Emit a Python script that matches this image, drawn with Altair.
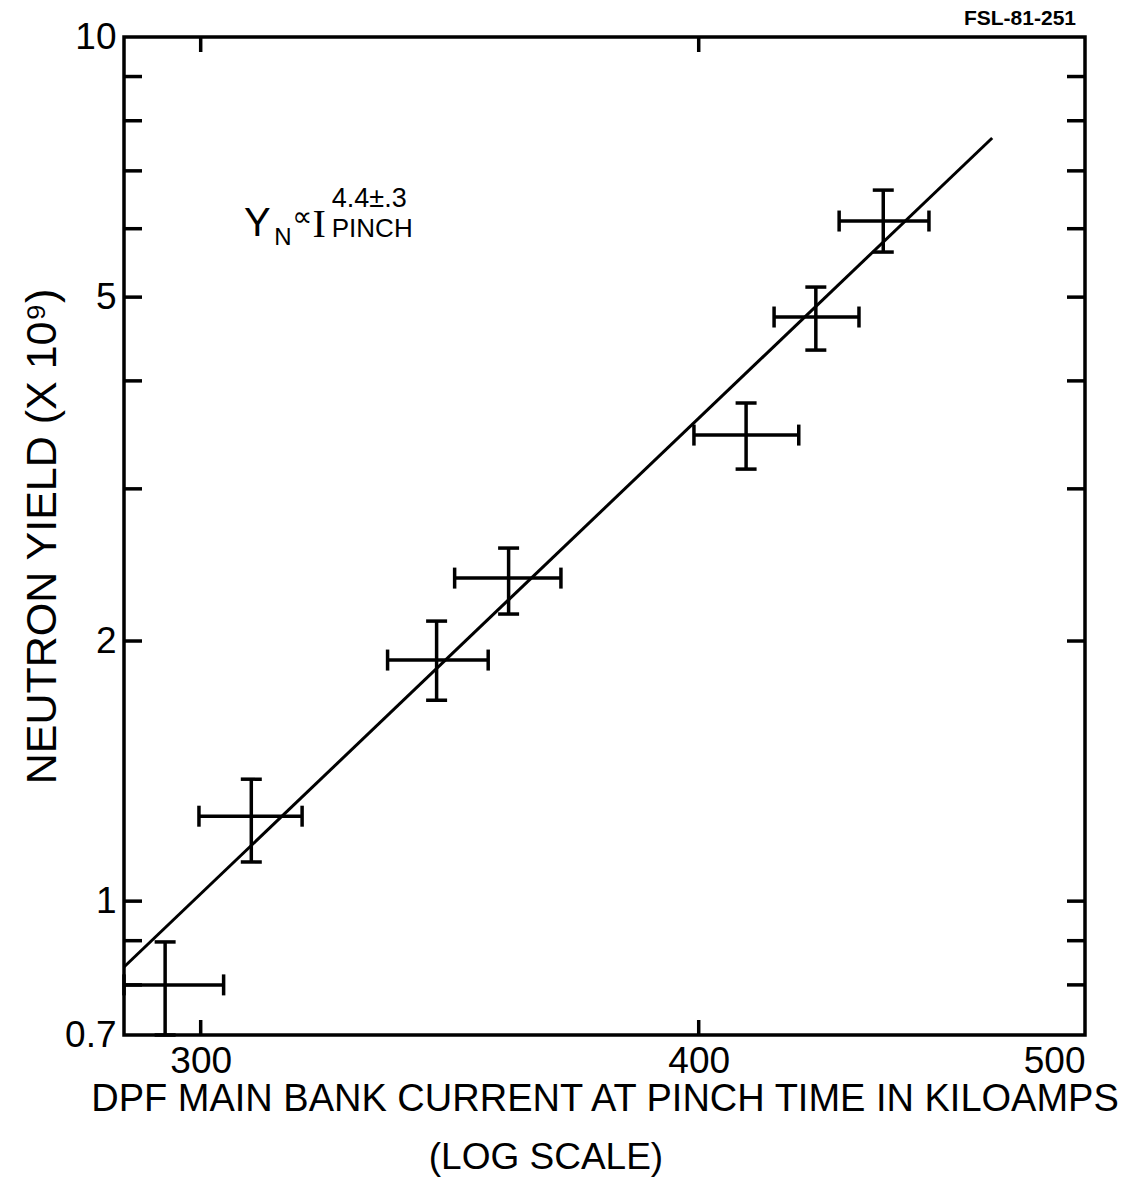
import altair as alt
import pandas as pd

# Measured pinch current (kA) with horizontal error range
current = [293.9, 308.9, 343.8, 358.4, 411.1, 428.0, 445.0]
current_lo = [287.0, 299.7, 334.2, 347.4, 398.9, 417.8, 433.8]
current_hi = [304.0, 318.1, 354.2, 369.4, 423.8, 438.8, 456.9]

# Neutron yield (x 1e9) with vertical error range
yield_n = [0.80, 1.254, 1.901, 2.365, 3.462, 4.742, 6.124]
yield_lo = [0.70, 1.11, 1.708, 2.149, 3.162, 4.342, 5.638]
yield_hi = [0.897, 1.384, 2.109, 2.562, 3.771, 5.136, 6.65]

# Power-law fit line end points
fit_current = [287.0, 473.9]
fit_yield = [0.839, 7.64]

# Axis ticks and labels
x_label_values = [300, 400, 500]
x_tick_values = [300, 400]
y_label_values = [0.7, 1, 2, 5, 10]
y_tick_values = [0.8, 0.9, 1, 2, 3, 4, 5, 6, 7, 8, 9]

# Annotation pieces: text, current, yield, font size, font family
annot_text = ["Y", "N", "\u221d", "I", "4.4\u00b1.3", "PINCH"]
annot_current = [307.6, 313.0, 316.3, 320.0, 323.6, 323.6]
annot_yield = [5.886, 5.744, 6.05, 5.870, 6.36, 5.870]
annot_size = [40, 24, 28, 40, 27, 26]
annot_font = ["Liberation Sans", "Liberation Sans", "DejaVu Sans",
              "Liberation Serif", "Liberation Sans", "Liberation Sans"]

# Drawing number printed above the top-right corner
drawing_id = ["FSL-81-251"]

W, H = 961, 998
FONT = "Liberation Sans"

pts = pd.DataFrame({
    "current": current, "current_lo": current_lo, "current_hi": current_hi,
    "yield": yield_n, "yield_lo": yield_lo, "yield_hi": yield_hi,
})
fit = pd.DataFrame({"current": fit_current, "yield": fit_yield})
xt = pd.DataFrame({"v": x_tick_values})
yt = pd.DataFrame({"v": y_tick_values})

x_scale = alt.Scale(type="log", domain=[287, 500], nice=False)
y_scale = alt.Scale(type="log", domain=[0.7, 10], nice=False)

x_axis = alt.Axis(values=x_label_values, ticks=False, domain=False, grid=False,
                  labelFontSize=37, labelPadding=8, labelFont=FONT,
                  labelColor="black", format="d",
                  title="DPF MAIN BANK CURRENT AT PINCH TIME IN KILOAMPS",
                  titleFontSize=38, titleFont=FONT, titleFontWeight="normal",
                  titleColor="black", titlePadding=1)
y_axis = alt.Axis(values=y_label_values, ticks=False, domain=False, grid=False,
                  labelFontSize=37, labelPadding=8, labelFont=FONT,
                  labelColor="black",
                  labelExpr="datum.value == 0.7 ? '0.7' : format(datum.value, 'd')",
                  title="NEUTRON YIELD (X 10\u2079)",
                  titleFontSize=43, titleFont=FONT, titleFontWeight="normal",
                  titleColor="black", titlePadding=0)

X = alt.X("current:Q", scale=x_scale, axis=x_axis)
Y = alt.Y("yield:Q", scale=y_scale, axis=y_axis)

base = alt.Chart(pts)

# Error bars
bar_style = dict(strokeWidth=3.5, color="black")
xbar = base.mark_rule(**bar_style).encode(
    x=alt.X("current_lo:Q", scale=x_scale, axis=x_axis), x2="current_hi:Q", y=Y)
ybar = base.mark_rule(**bar_style).encode(
    x=X, y=alt.Y("yield_lo:Q", scale=y_scale, axis=y_axis), y2="yield_hi:Q")

cap_style = dict(color="black", size=21, thickness=3.5, opacity=1)
cap_xlo = base.mark_tick(orient="vertical", **cap_style).encode(
    x=alt.X("current_lo:Q", scale=x_scale), y=alt.Y("yield:Q", scale=y_scale))
cap_xhi = base.mark_tick(orient="vertical", **cap_style).encode(
    x=alt.X("current_hi:Q", scale=x_scale), y=alt.Y("yield:Q", scale=y_scale))
cap_ylo = base.mark_tick(orient="horizontal", **cap_style).encode(
    x=alt.X("current:Q", scale=x_scale), y=alt.Y("yield_lo:Q", scale=y_scale))
cap_yhi = base.mark_tick(orient="horizontal", **cap_style).encode(
    x=alt.X("current:Q", scale=x_scale), y=alt.Y("yield_hi:Q", scale=y_scale))

# Fitted power law
fit_line = alt.Chart(fit).mark_line(color="black", strokeWidth=3).encode(
    x=alt.X("current:Q", scale=x_scale), y=alt.Y("yield:Q", scale=y_scale))

# Inward frame ticks
tick_style = dict(color="black", strokeWidth=3.5)
left_ticks = alt.Chart(yt).mark_rule(**tick_style).encode(
    y=alt.Y("v:Q", scale=y_scale), x=alt.value(0), x2=alt.value(18))
right_ticks = alt.Chart(yt).mark_rule(**tick_style).encode(
    y=alt.Y("v:Q", scale=y_scale), x=alt.value(W - 18), x2=alt.value(W))
top_ticks = alt.Chart(xt).mark_rule(**tick_style).encode(
    x=alt.X("v:Q", scale=x_scale), y=alt.value(0), y2=alt.value(15))
bottom_ticks = alt.Chart(xt).mark_rule(**tick_style).encode(
    x=alt.X("v:Q", scale=x_scale), y=alt.value(H - 15), y2=alt.value(H))

# Formula annotation, one text mark per piece (each has its own font)
annot_layers = []
for t, c, yv, s, f in zip(annot_text, annot_current, annot_yield,
                          annot_size, annot_font):
    annot_layers.append(
        alt.Chart(pd.DataFrame({"text": [t], "current": [c], "yield": [yv]}))
        .mark_text(align="left", baseline="alphabetic", color="black",
                   fontSize=s, font=f)
        .encode(x=alt.X("current:Q", scale=x_scale),
                y=alt.Y("yield:Q", scale=y_scale), text="text:N")
    )

# Second line of the x-axis title
subtitle = alt.Chart(pd.DataFrame({"t": ["(LOG SCALE)"]})).mark_text(
    font=FONT, fontSize=37, align="center", baseline="top", color="black").encode(
    text="t:N", x=alt.value(422), y=alt.value(1103))

# Drawing number above the frame
tag = alt.Chart(pd.DataFrame({"t": drawing_id})).mark_text(
    font=FONT, fontSize=21, fontWeight="bold", align="right",
    baseline="alphabetic", color="black").encode(
    text="t:N", x=alt.value(W - 9), y=alt.value(-12))

chart = alt.layer(
    xbar, ybar, cap_xlo, cap_xhi, cap_ylo, cap_yhi, fit_line,
    left_ticks, right_ticks, top_ticks, bottom_ticks, *annot_layers,
    subtitle, tag,
).properties(
    width=W, height=H,
    autosize=alt.AutoSizeParams(type="none"),
    padding={"left": 124, "top": 37, "right": 38, "bottom": 147},
).configure(
    background="white",
    view=alt.ViewConfig(stroke="black", strokeWidth=3.5),
)

chart.save("out.html", embed_options={"renderer": "svg", "actions": False})
